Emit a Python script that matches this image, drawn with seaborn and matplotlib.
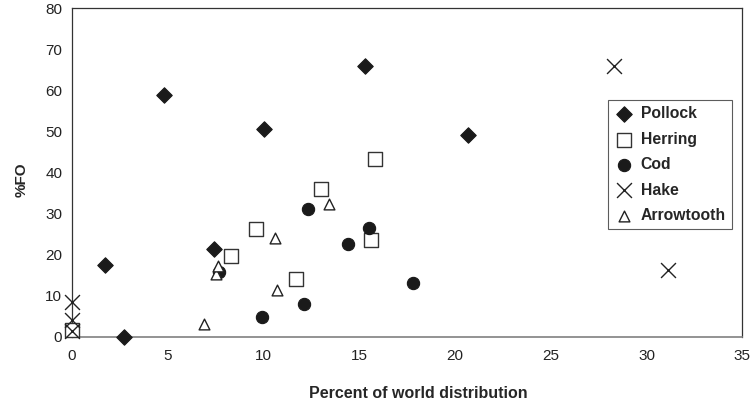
import matplotlib
matplotlib.use("Agg")
import matplotlib.pyplot as plt
import seaborn as sns
import pandas as pd

# values (x = percent of world distribution, y = %FO)
pollock_x = [1.7, 2.7, 4.8, 7.4, 10.0, 15.3, 20.7]
pollock_y = [17.4, 0.0, 58.8, 21.5, 50.5, 66.0, 49.2]

herring_x = [0.0, 8.3, 9.6, 11.7, 13.0, 15.6, 15.8]
herring_y = [1.8, 19.8, 26.3, 14.0, 35.9, 23.7, 43.3]

cod_x = [7.7, 9.9, 12.1, 12.3, 14.4, 15.5, 17.8]
cod_y = [15.9, 4.9, 8.0, 31.2, 22.5, 26.4, 13.1]

hake_x = [0.0, 0.0, 0.0, 28.3, 31.1]
hake_y = [8.6, 4.1, 1.5, 66.0, 16.2]

arrow_x = [6.9, 7.5, 7.6, 10.6, 10.7, 13.4]
arrow_y = [3.2, 15.3, 17.2, 24.0, 11.5, 32.3]

species = ["Pollock", "Herring", "Cod", "Hake", "Arrowtooth"]

frames = []
for name, xs, ys in zip(species,
                        [pollock_x, herring_x, cod_x, hake_x, arrow_x],
                        [pollock_y, herring_y, cod_y, hake_y, arrow_y]):
    frames.append(pd.DataFrame({"dist": xs, "fo": ys, "species": name}))
df = pd.concat(frames, ignore_index=True)

sns.set_style("white")
plt.rcParams["font.family"] = ["Liberation Sans", "DejaVu Sans"]

# marker, size, face, edge, linewidth
styles = {
    "Pollock": ("D", 62, "#1a1a1a", "#1a1a1a", 0.8),
    "Herring": ("s", 105, "white", "#333333", 1.0),
    "Cod": ("o", 78, "#1a1a1a", "#1a1a1a", 0.8),
    "Hake": ("x", 115, "#222222", "#222222", 1.0),
    "Arrowtooth": ("^", 60, "white", "#222222", 1.0),
}

fig = plt.figure(figsize=(7.54, 4.05), dpi=100)
ax = fig.add_axes([0.0955, 0.168, 0.889, 0.812])

for name in species:
    m, s, fc, ec, lw = styles[name]
    sub = df[df["species"] == name]
    sns.scatterplot(data=sub, x="dist", y="fo", marker=m, s=s, color=fc,
                    edgecolor=ec, linewidth=lw, label=name, ax=ax,
                    clip_on=False, zorder=3)

ax.set_xlim(0, 35)
ax.set_ylim(0, 80)
ax.set_xticks(range(0, 36, 5))
ax.set_yticks(range(0, 81, 10))
ax.tick_params(axis="both", direction="out", length=4, width=0.8,
               labelsize=11, colors="#222222", pad=3)
ax.tick_params(axis="x", pad=5)

for side in ["top", "right", "left"]:
    ax.spines[side].set_color("#333333")
    ax.spines[side].set_linewidth(0.9)
ax.spines["bottom"].set_color("#808080")
ax.spines["bottom"].set_linewidth(1.2)

ax.set_xlabel("Percent of world distribution", fontsize=11.5, fontweight="bold",
              labelpad=16, x=0.516)
ax.set_ylabel("%FO", fontsize=11, fontweight="bold", labelpad=12, y=0.477)

leg = ax.legend(loc="upper right", bbox_to_anchor=(0.985, 0.72),
                borderaxespad=0, frameon=True, fancybox=False,
                edgecolor="#333333", handletextpad=0.4, labelspacing=0.66,
                borderpad=0.4, handlelength=1.3,
                prop={"weight": "bold", "size": 11.3})
leg.get_frame().set_linewidth(0.8)

fig.savefig("out.png", dpi=100)
